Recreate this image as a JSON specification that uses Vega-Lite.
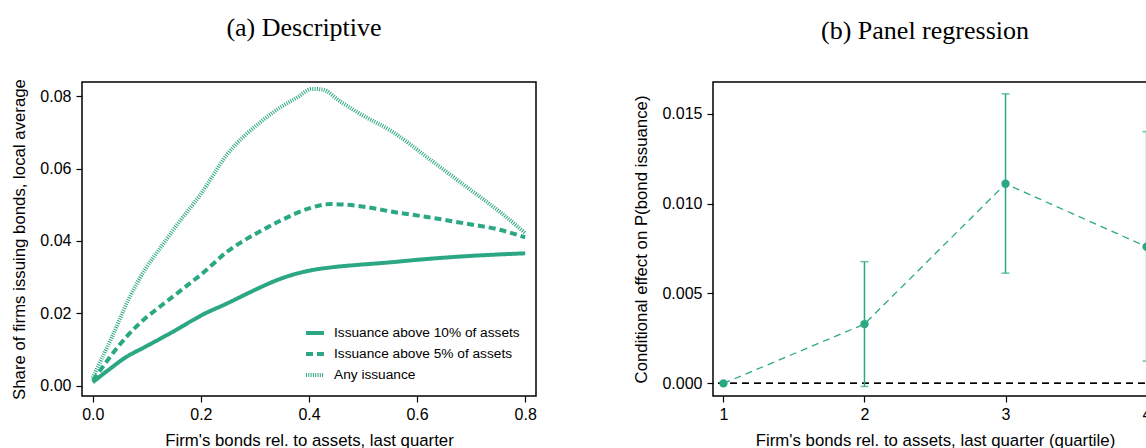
{
  "$schema": "https://vega.github.io/schema/vega-lite/v6.json",
  "autosize": {"type": "pad"},
  "padding": {"left": 11, "top": 13, "right": 0, "bottom": 0},
  "background": "white",
  "bounds": "flush",
  "spacing": 177,
  "config": {
    "view": {"stroke": "black", "strokeWidth": 1.5},
    "axis": {
      "domain": false, "grid": false,
      "tickColor": "black", "tickSize": 6, "tickWidth": 1.2,
      "labelFont": "Liberation Sans", "labelFontSize": 16, "labelColor": "black",
      "titleFont": "Liberation Sans", "titleFontSize": 16.8, "titleFontWeight": "normal", "titleColor": "black"
    },
    "axisX": {"labelPadding": 4, "titlePadding": 10},
    "axisY": {"labelPadding": 5, "titlePadding": 11},
    "title": {"font": "Liberation Serif", "fontSize": 26, "fontWeight": "normal", "color": "black"}
  },
  "datasets": {
    "desc": [
      {"x": 0.0, "y": 0.0010, "s": "Issuance above 10% of assets"},
      {"x": 0.01, "y": 0.0022, "s": "Issuance above 10% of assets"},
      {"x": 0.03, "y": 0.0045, "s": "Issuance above 10% of assets"},
      {"x": 0.06, "y": 0.0078, "s": "Issuance above 10% of assets"},
      {"x": 0.096, "y": 0.0107, "s": "Issuance above 10% of assets"},
      {"x": 0.127, "y": 0.0132, "s": "Issuance above 10% of assets"},
      {"x": 0.15, "y": 0.0151, "s": "Issuance above 10% of assets"},
      {"x": 0.188, "y": 0.0184, "s": "Issuance above 10% of assets"},
      {"x": 0.2, "y": 0.0194, "s": "Issuance above 10% of assets"},
      {"x": 0.249, "y": 0.0228, "s": "Issuance above 10% of assets"},
      {"x": 0.293, "y": 0.0260, "s": "Issuance above 10% of assets"},
      {"x": 0.31, "y": 0.0272, "s": "Issuance above 10% of assets"},
      {"x": 0.346, "y": 0.0295, "s": "Issuance above 10% of assets"},
      {"x": 0.4, "y": 0.0318, "s": "Issuance above 10% of assets"},
      {"x": 0.44, "y": 0.0327, "s": "Issuance above 10% of assets"},
      {"x": 0.49, "y": 0.0334, "s": "Issuance above 10% of assets"},
      {"x": 0.55, "y": 0.0341, "s": "Issuance above 10% of assets"},
      {"x": 0.6, "y": 0.0348, "s": "Issuance above 10% of assets"},
      {"x": 0.69, "y": 0.0358, "s": "Issuance above 10% of assets"},
      {"x": 0.8, "y": 0.0366, "s": "Issuance above 10% of assets"},
      {"x": 0.0, "y": 0.0015, "s": "Issuance above 5% of assets"},
      {"x": 0.01, "y": 0.0035, "s": "Issuance above 5% of assets"},
      {"x": 0.035, "y": 0.0086, "s": "Issuance above 5% of assets"},
      {"x": 0.065, "y": 0.0140, "s": "Issuance above 5% of assets"},
      {"x": 0.096, "y": 0.0185, "s": "Issuance above 5% of assets"},
      {"x": 0.127, "y": 0.0222, "s": "Issuance above 5% of assets"},
      {"x": 0.16, "y": 0.0260, "s": "Issuance above 5% of assets"},
      {"x": 0.188, "y": 0.0293, "s": "Issuance above 5% of assets"},
      {"x": 0.2, "y": 0.0307, "s": "Issuance above 5% of assets"},
      {"x": 0.249, "y": 0.0371, "s": "Issuance above 5% of assets"},
      {"x": 0.293, "y": 0.0413, "s": "Issuance above 5% of assets"},
      {"x": 0.31, "y": 0.0427, "s": "Issuance above 5% of assets"},
      {"x": 0.346, "y": 0.0455, "s": "Issuance above 5% of assets"},
      {"x": 0.4, "y": 0.0490, "s": "Issuance above 5% of assets"},
      {"x": 0.44, "y": 0.0502, "s": "Issuance above 5% of assets"},
      {"x": 0.49, "y": 0.0497, "s": "Issuance above 5% of assets"},
      {"x": 0.557, "y": 0.0480, "s": "Issuance above 5% of assets"},
      {"x": 0.624, "y": 0.0465, "s": "Issuance above 5% of assets"},
      {"x": 0.69, "y": 0.0448, "s": "Issuance above 5% of assets"},
      {"x": 0.75, "y": 0.0432, "s": "Issuance above 5% of assets"},
      {"x": 0.8, "y": 0.0410, "s": "Issuance above 5% of assets"},
      {"x": 0.0, "y": 0.0022, "s": "Any issuance"},
      {"x": 0.01, "y": 0.0055, "s": "Any issuance"},
      {"x": 0.035, "y": 0.0133, "s": "Any issuance"},
      {"x": 0.065, "y": 0.0235, "s": "Any issuance"},
      {"x": 0.096, "y": 0.0320, "s": "Any issuance"},
      {"x": 0.127, "y": 0.0385, "s": "Any issuance"},
      {"x": 0.157, "y": 0.0447, "s": "Any issuance"},
      {"x": 0.2, "y": 0.0530, "s": "Any issuance"},
      {"x": 0.249, "y": 0.0640, "s": "Any issuance"},
      {"x": 0.31, "y": 0.0728, "s": "Any issuance"},
      {"x": 0.346, "y": 0.0768, "s": "Any issuance"},
      {"x": 0.379, "y": 0.0797, "s": "Any issuance"},
      {"x": 0.405, "y": 0.0820, "s": "Any issuance"},
      {"x": 0.425, "y": 0.0818, "s": "Any issuance"},
      {"x": 0.458, "y": 0.0785, "s": "Any issuance"},
      {"x": 0.49, "y": 0.0755, "s": "Any issuance"},
      {"x": 0.557, "y": 0.0699, "s": "Any issuance"},
      {"x": 0.624, "y": 0.0625, "s": "Any issuance"},
      {"x": 0.69, "y": 0.0551, "s": "Any issuance"},
      {"x": 0.756, "y": 0.0477, "s": "Any issuance"},
      {"x": 0.8, "y": 0.0422, "s": "Any issuance"}
    ],
    "reg": [
      {"q": 1, "est": 0.0, "lo": null, "hi": null},
      {"q": 2, "est": 0.0033, "lo": -0.00017, "hi": 0.00677},
      {"q": 3, "est": 0.0111, "lo": 0.00613, "hi": 0.0161},
      {"q": 4, "est": 0.0076, "lo": 0.00124, "hi": 0.0140}
    ]
  },
  "hconcat": [
    {
      "width": 454,
      "height": 314,
      "title": {"text": "(a) Descriptive", "offset": 38, "anchor": "middle", "dx": -5},
      "layer": [
        {
          "mark": {"type": "rule", "color": "#c4c4c4", "strokeWidth": 1.2},
          "encoding": {"x": {"datum": 0.25, "type": "quantitative"}}
        },
        {
          "data": {"name": "desc"},
          "mark": {"type": "line", "color": "#2ba883", "strokeCap": "butt", "interpolate": "monotone"},
          "encoding": {
            "x": {
              "field": "x", "type": "quantitative",
              "scale": {"domain": [-0.02, 0.82], "nice": false, "zero": false},
              "axis": {"values": [0, 0.2, 0.4, 0.6, 0.8], "format": ".1f", "title": "Firm's bonds rel. to assets, last quarter"}
            },
            "y": {
              "field": "y", "type": "quantitative",
              "scale": {"domain": [-0.0028, 0.0839], "nice": false, "zero": false},
              "axis": {"values": [0, 0.02, 0.04, 0.06, 0.08], "format": ".2f", "title": "Share of firms issuing bonds, local average"}
            },
            "strokeDash": {
              "field": "s", "type": "nominal",
              "scale": {"domain": ["Issuance above 10% of assets", "Issuance above 5% of assets", "Any issuance"], "range": [[1, 0], [7, 4], [1, 1.3]]},
              "legend": {
                "title": null, "orient": "none", "legendX": 222, "legendY": 240,
                "symbolType": "stroke", "symbolSize": 324, "symbolStrokeColor": "#2ba883",
                "labelFont": "Liberation Sans", "labelFontSize": 13.7, "labelColor": "black",
                "labelOffset": 8, "rowPadding": 2, "labelLimit": 400
              }
            },
            "strokeWidth": {
              "field": "s", "type": "nominal",
              "scale": {"domain": ["Issuance above 10% of assets", "Issuance above 5% of assets", "Any issuance"], "range": [4, 4, 2.5]},
              "legend": {
                "title": null, "orient": "none", "legendX": 222, "legendY": 240,
                "symbolType": "stroke", "symbolSize": 324, "symbolStrokeColor": "#2ba883",
                "labelFont": "Liberation Sans", "labelFontSize": 13.7, "labelColor": "black",
                "labelOffset": 8, "rowPadding": 2, "labelLimit": 400
              }
            }
          }
        }
      ]
    },
    {
      "width": 444,
      "height": 314,
      "title": {"text": "(b) Panel regression", "offset": 38, "anchor": "middle", "dx": -10},
      "data": {"name": "reg"},
      "layer": [
        {
          "mark": {"type": "rule", "color": "black", "strokeWidth": 1.4, "strokeDash": [7, 5]},
          "encoding": {"y": {"datum": 0, "type": "quantitative"}}
        },
        {
          "mark": {"type": "line", "color": "#2ba883", "strokeWidth": 1.3, "strokeDash": [7, 5]},
          "encoding": {
            "x": {
              "field": "q", "type": "quantitative",
              "scale": {"domain": [0.926, 4.074], "nice": false, "zero": false},
              "axis": {"values": [1, 2, 3, 4], "format": "d", "title": "Firm's bonds rel. to assets, last quarter (quartile)"}
            },
            "y": {
              "field": "est", "type": "quantitative",
              "scale": {"domain": [-0.0007, 0.01676], "nice": false, "zero": false},
              "axis": {"values": [0, 0.005, 0.01, 0.015], "format": ".3f", "title": "Conditional effect on P(bond issuance)"}
            }
          }
        },
        {
          "mark": {"type": "rule", "color": "#2ba883", "strokeWidth": 1.5},
          "encoding": {
            "x": {"field": "q", "type": "quantitative"},
            "y": {"field": "lo", "type": "quantitative"},
            "y2": {"field": "hi"}
          }
        },
        {
          "mark": {"type": "tick", "orient": "horizontal", "color": "#2ba883", "size": 8, "thickness": 1.5},
          "encoding": {
            "x": {"field": "q", "type": "quantitative"},
            "y": {"field": "lo", "type": "quantitative"}
          }
        },
        {
          "mark": {"type": "tick", "orient": "horizontal", "color": "#2ba883", "size": 8, "thickness": 1.5},
          "encoding": {
            "x": {"field": "q", "type": "quantitative"},
            "y": {"field": "hi", "type": "quantitative"}
          }
        },
        {
          "mark": {"type": "point", "filled": true, "opacity": 1, "color": "#2ba883", "size": 70},
          "encoding": {
            "x": {"field": "q", "type": "quantitative"},
            "y": {"field": "est", "type": "quantitative"}
          }
        }
      ]
    }
  ]
}
